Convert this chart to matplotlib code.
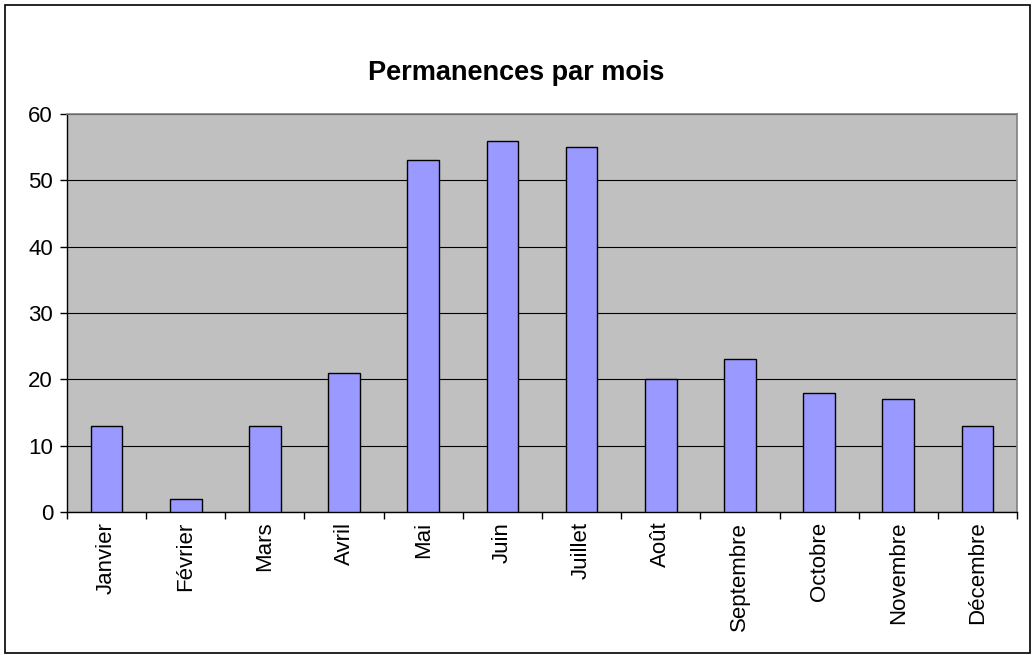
import matplotlib.pyplot as plt
import numpy as np
from matplotlib.patches import Rectangle

months = ["Janvier", "Février", "Mars", "Avril", "Mai", "Juin", "Juillet",
          "Août", "Septembre", "Octobre", "Novembre", "Décembre"]
counts = [13, 2, 13, 21, 53, 56, 55, 20, 23, 18, 17, 13]
y_ticks = [0, 10, 20, 30, 40, 50, 60]

plt.rcParams["font.family"] = ["Liberation Sans", "DejaVu Sans"]

fig = plt.figure(figsize=(10.32, 6.55), dpi=100)
ax = fig.add_axes([67 / 1032, 1 - 512 / 655, 950 / 1032, 398 / 655])

x = np.arange(len(months))
ax.set_facecolor("#C0C0C0")
ax.bar(x, counts, width=0.4, color="#9999FF", edgecolor="black", linewidth=1.0, zorder=3)

ax.set_xlim(-0.5, len(months) - 0.5)
ax.set_ylim(0, 60)
ax.set_yticks(y_ticks)
ax.set_yticklabels([str(v) for v in y_ticks], fontsize=16)
ax.yaxis.grid(True, color="black", linewidth=0.8, zorder=1)
ax.set_axisbelow(True)

ax.set_xticks(x)
ax.set_xticklabels(months, rotation=90, fontsize=16)
ax.tick_params(axis="x", which="major", length=0, pad=7)
ax.set_xticks(np.arange(len(months) + 1) - 0.5, minor=True)
ax.tick_params(axis="x", which="minor", length=5, width=1, color="black")
ax.tick_params(axis="y", length=5, width=1, pad=5)

for side in ("top", "right"):
    ax.spines[side].set_color("#808080")
    ax.spines[side].set_linewidth(1.2)
for side in ("left", "bottom"):
    ax.spines[side].set_color("black")
    ax.spines[side].set_linewidth(1.0)

fig.text(0.5, 1 - 73 / 655, "Permanences par mois", ha="center", va="center",
         fontsize=19.5, fontweight="bold")

fig.patches.append(Rectangle((5 / 1032, 2 / 655), 1025 / 1032, 648 / 655,
                             transform=fig.transFigure, fill=False,
                             edgecolor="black", linewidth=1.2))

fig.savefig("out.png", dpi=100)
